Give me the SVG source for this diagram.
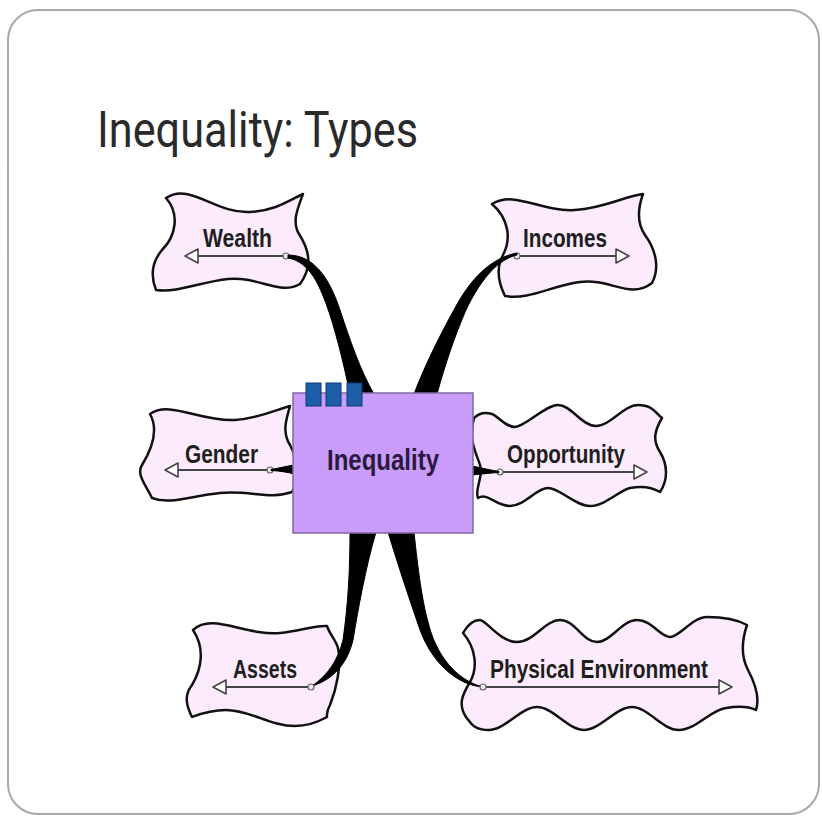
<svg xmlns="http://www.w3.org/2000/svg" width="822" height="819" viewBox="0 0 822 819">
  <defs>
    <style>
      .slide { fill: #ffffff; stroke: #a8a8a8; stroke-width: 2; }
      .title { font-family: Roboto, "Liberation Sans", sans-serif; font-weight: 400; font-size: 50px; fill: #2a2a2a; }
      .flag { fill: #fcebfc; stroke: #111111; stroke-width: 2.5; stroke-linejoin: round; }
      .label { font-family: "Liberation Sans", Arial, sans-serif; font-weight: bold; font-size: 25px; fill: #1e1e1e; }
      .shaft { stroke: #444444; stroke-width: 2; fill: none; }
      .head { fill: #ffffff; stroke: #444444; stroke-width: 1.6; stroke-linejoin: round; }
      .knob { fill: #e8e8e8; stroke: #666666; stroke-width: 1.2; }
      .branch { fill: #000000; stroke: #000000; stroke-width: 1; stroke-linejoin: round; }
      .core { fill: #c89cf8; stroke: #80699e; stroke-width: 1.5; }
      .core-label { font-family: "Liberation Sans", Arial, sans-serif; font-weight: bold; font-size: 30px; fill: #2a1a40; }
      .tab { fill: #1d5ca6; stroke: #0c3a78; stroke-width: 1; }
    </style>
  </defs>

  <!-- slide frame -->
  <rect class="slide" x="8" y="10" width="811" height="804" rx="30" ry="30"/>
  <text class="title" x="97" y="147" textLength="321" lengthAdjust="spacingAndGlyphs">Inequality: Types</text>

  <!-- Wealth -->
  <g id="node-wealth">
    <path class="flag" d="M 166 198 C 190 182, 215 214, 250 212 C 275 211, 290 200, 303 194 C 297 210, 292 222, 299 234 C 308 248, 314 265, 300 284 C 280 296, 258 276, 228 279 C 200 282, 178 293, 156 290 C 150 275, 152 262, 162 250 C 176 236, 180 214, 166 198 Z"/>
    <text class="label" x="203" y="247" textLength="69" lengthAdjust="spacingAndGlyphs">Wealth</text>
    <line class="shaft" x1="285" y1="256" x2="197" y2="256"/>
    <path class="head" d="M 185 256 L 198 249 L 198 263 Z"/>
    <circle class="knob" cx="286" cy="256" r="3"/>
  </g>

  <!-- Incomes -->
  <g id="node-incomes">
    <path class="flag" d="M 492 204 C 515 190, 540 212, 575 210 C 605 208, 625 196, 643 194 C 638 208, 636 222, 645 235 C 656 250, 660 268, 652 283 C 630 300, 610 278, 580 282 C 550 286, 530 300, 505 296 C 498 282, 496 268, 503 255 C 512 238, 508 218, 492 204 Z"/>
    <text class="label" x="523" y="247" textLength="84" lengthAdjust="spacingAndGlyphs">Incomes</text>
    <line class="shaft" x1="517" y1="256" x2="617" y2="256"/>
    <path class="head" d="M 629 256 L 616 249 L 616 263 Z"/>
    <circle class="knob" cx="517" cy="256" r="3"/>
  </g>

  <!-- Gender -->
  <g id="node-gender">
    <path class="flag" d="M 150 414 C 170 400, 200 422, 235 420 C 260 418, 275 410, 290 406 C 286 420, 282 432, 290 445 C 298 460, 300 478, 292 492 C 270 500, 250 490, 220 493 C 190 496, 170 505, 152 498 C 146 485, 136 475, 142 465 C 150 452, 160 432, 150 414 Z"/>
    <text class="label" x="185" y="463" textLength="73" lengthAdjust="spacingAndGlyphs">Gender</text>
    <line class="shaft" x1="270" y1="470" x2="177" y2="470"/>
    <path class="head" d="M 165 470 L 178 463 L 178 477 Z"/>
    <circle class="knob" cx="270" cy="470" r="3"/>
  </g>

  <!-- Opportunity -->
  <g id="node-opportunity">
    <path class="flag" d="M 474 418 C 480 412, 486 412, 492 414 S 505 427, 515 427 S 545 405, 558 405 S 582 426, 596 426 S 624 405, 638 405 S 655 412, 662 418 C 655 430, 652 440, 660 452 C 668 465, 668 480, 660 492 C 650 486, 640 486, 630 488 S 605 506, 590 506 S 560 488, 548 488 S 525 506, 510 506 S 488 492, 478 498 C 474 488, 484 478, 480 465 C 476 452, 468 440, 474 418 Z"/>
    <text class="label" x="507" y="463" textLength="118" lengthAdjust="spacingAndGlyphs">Opportunity</text>
    <line class="shaft" x1="500" y1="472" x2="635" y2="472"/>
    <path class="head" d="M 647 472 L 634 465 L 634 479 Z"/>
    <circle class="knob" cx="500" cy="472" r="3"/>
  </g>

  <!-- Assets -->
  <g id="node-assets">
    <path class="flag" d="M 193 630 C 212 612, 245 636, 280 633 C 300 631, 315 625, 327 626 C 330 635, 336 640, 338 648 C 342 665, 336 690, 330 705 C 326 712, 327 715, 327 717 C 318 722, 308 726, 295 726 C 270 726, 250 710, 226 710 C 210 710, 200 714, 192 717 C 186 705, 184 695, 192 685 C 202 668, 205 648, 193 630 Z"/>
    <text class="label" x="233" y="678" textLength="64" lengthAdjust="spacingAndGlyphs">Assets</text>
    <line class="shaft" x1="310" y1="687" x2="225" y2="687"/>
    <path class="head" d="M 213 687 L 226 680 L 226 694 Z"/>
  </g>

  <!-- Physical Environment -->
  <g id="node-physical">
    <path class="flag" d="M 463 633 C 468 624, 474 620, 480 620 S 500 642, 517 642 S 545 620, 560 620 S 583 642, 597 642 S 622 620, 637 620 S 660 637, 670 637 S 692 617, 707 617 S 738 620, 747 625 C 742 640, 740 655, 748 670 C 756 685, 760 698, 756 710 C 748 706, 738 706, 726 708 C 710 710, 696 730, 679 730 S 648 707, 632 707 S 600 730, 584 730 S 553 707, 537 707 S 505 730, 489 730 S 470 722, 466 717 C 458 705, 462 695, 470 682 C 478 668, 476 648, 463 633 Z"/>
    <text class="label" x="490" y="678" textLength="218" lengthAdjust="spacingAndGlyphs">Physical Environment</text>
    <line class="shaft" x1="483" y1="687" x2="719" y2="687"/>
    <path class="head" d="M 732 687 L 719 680 L 719 694 Z"/>
  </g>

  <!-- tapered branches from the central topic -->
  <g id="connectors">
    <path class="branch" d="M 288 255 C 315 255, 330 280, 340 310 C 350 340, 360 370, 374 394 L 350 394 C 345 370, 338 340, 330 315 C 320 285, 310 262, 288 258 Z"/>
    <path class="branch" d="M 517 255 C 495 260, 478 285, 466 310 C 455 335, 445 365, 437 394 L 414 394 C 425 365, 440 335, 455 308 C 470 280, 490 258, 517 253 Z"/>
    <path class="branch" d="M 271 469.5 C 280 468, 287 466, 294 465 L 294 474 C 287 472, 280 471, 271 470.5 Z"/>
    <path class="branch" d="M 499 471.5 C 490 470, 482 468, 472 466 L 472 475 C 482 474, 490 473, 499 472.5 Z"/>
    <path class="branch" d="M 350 532 L 376 532 C 365 570, 358 610, 353 640 C 347 665, 332 680, 312 686 C 328 675, 338 660, 343 640 C 348 605, 350 570, 350 532 Z"/>
    <path class="branch" d="M 388 532 L 414 532 C 418 570, 422 600, 428 622 C 436 655, 456 680, 483 687 C 455 685, 430 660, 419 627 C 408 595, 398 565, 388 532 Z"/>
    <circle class="knob" cx="311" cy="687" r="3"/>
    <circle class="knob" cx="483" cy="687" r="3"/>
  </g>

  <!-- central topic -->
  <g id="node-inequality">
    <rect class="core" x="293" y="393" width="180" height="140"/>
    <rect class="tab" x="306" y="383" width="15" height="23"/>
    <rect class="tab" x="326" y="383" width="15" height="23"/>
    <rect class="tab" x="347" y="383" width="15" height="23"/>
    <text class="core-label" x="327" y="470" textLength="112" lengthAdjust="spacingAndGlyphs">Inequality</text>
  </g>
</svg>
